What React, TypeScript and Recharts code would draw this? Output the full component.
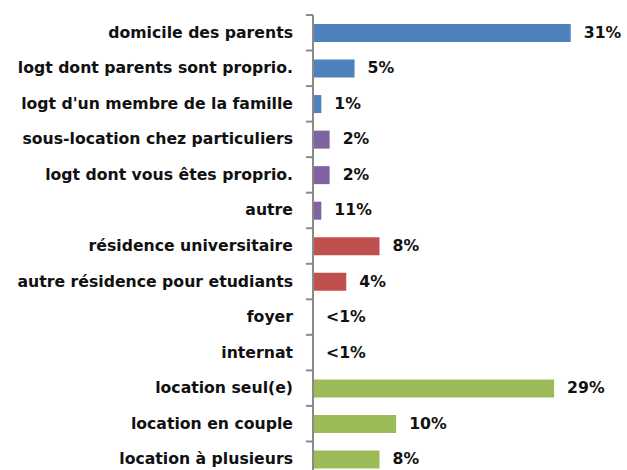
import { Bar, Cell, ComposedChart, LabelList, Line, XAxis, YAxis } from "recharts";

const categories = [
  "domicile des parents",
  "logt dont parents sont proprio.",
  "logt d'un membre de la famille",
  "sous-location chez particuliers",
  "logt dont vous êtes proprio.",
  "autre",
  "résidence universitaire",
  "autre résidence pour etudiants",
  "foyer",
  "internat",
  "location seul(e)",
  "location en couple",
  "location à plusieurs",
];

const values = [31, 5, 1, 2, 2, 1, 8, 4, 0, 0, 29, 10, 8];

const valueLabels = ["31%", "5%", "1%", "2%", "2%", "11%", "8%", "4%", "<1%", "<1%", "29%", "10%", "8%"];

const groups = [
  "famille", "famille", "famille",
  "autre", "autre", "autre",
  "residence", "residence", "residence", "residence",
  "location", "location", "location",
];

const groupColors: Record<string, string> = {
  famille: "#4f81bd",
  autre: "#8064a2",
  residence: "#c0504d",
  location: "#9bbb59",
};

const data = categories.map((name, i) => ({ name, value: values[i], label: valueLabels[i], group: groups[i] }));

const AXIS_X = 313;
const PLOT_H = 462;
const BAND = PLOT_H / categories.length;
const FONT = "'DejaVu Sans', sans-serif";
const AXIS_COLOR = "#8a8a8a";

function CategoryTick(props: any) {
  const { y, payload } = props;
  return (
    <text
      x={AXIS_X - 20}
      y={y}
      dy={5}
      textAnchor="end"
      fontFamily={FONT}
      fontWeight="bold"
      fontSize={15.7}
      fill="#111"
    >
      {payload.value}
    </text>
  );
}

// value label at the bar end, plus the small axis tick on the category's top boundary
function ValueLabel(props: any) {
  const { x, y, value } = props;
  const cy = Number(y);
  const top = cy - BAND / 2;
  return (
    <g>
      <path d={`M${AXIS_X - 7} ${top}L${AXIS_X} ${top}`} stroke={AXIS_COLOR} strokeWidth={2} fill="none" />
      <text x={Number(x) + 13} y={cy} dy={5} fontFamily={FONT} fontWeight="bold" fontSize={15.7} fill="#111">
        {value}
      </text>
    </g>
  );
}

export default function App() {
  return (
    <div style={{ position: "absolute", top: 0, left: 0, background: "#fff" }}>
      <ComposedChart
        width={627}
        height={480}
        data={data}
        layout="vertical"
        margin={{ top: 15, right: 23, bottom: 3, left: 0 }}
      >
        <XAxis type="number" domain={[0, 35]} hide />
        <YAxis
          type="category"
          dataKey="name"
          width={AXIS_X}
          axisLine={{ stroke: AXIS_COLOR, strokeWidth: 2 }}
          tickLine={false}
          tick={CategoryTick}
          interval={0}
        />
        <Bar dataKey="value" barSize={18} isAnimationActive={false}>
          {data.map((d, i) => (
            <Cell key={i} fill={groupColors[d.group]} />
          ))}
        </Bar>
        <Line dataKey="value" stroke="none" dot={false} activeDot={false} isAnimationActive={false}>
          <LabelList dataKey="label" content={<ValueLabel />} />
        </Line>
      </ComposedChart>
    </div>
  );
}
